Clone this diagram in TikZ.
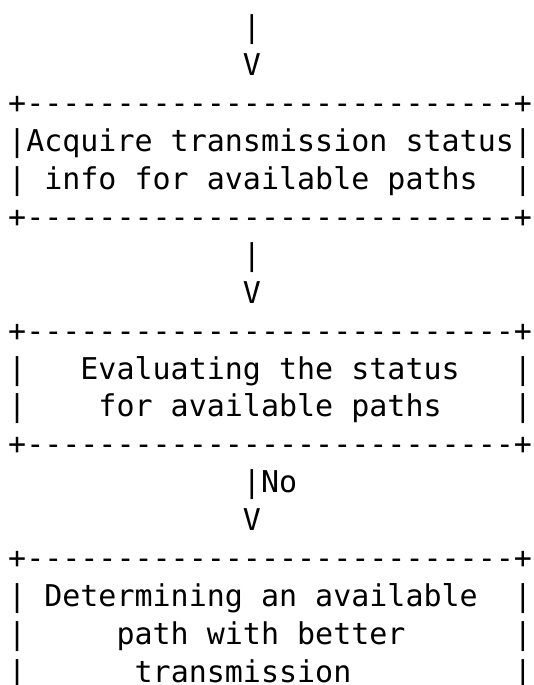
\documentclass[tikz,border=0pt]{standalone}
\usepackage{fontspec}
\newfontfamily\asciifont{DejaVu Sans Mono}[Ligatures=TeXOff]

\begin{document}
\begin{tikzpicture}[x=18.06pt, y=-37.9pt,
  ascii/.style={font=\asciifont\fontsize{30pt}{36pt}\selectfont, inner sep=0pt, anchor=base west}]
\useasboundingbox (-8pt,0pt) rectangle (525pt,-685pt);

% Incoming arrow
\node[ascii] (inbar)  at (13,1) {|};
\node[ascii] (inhead) at (13,2) {V};

% Acquire box
\node[ascii] (acqtop) at (0,3) {+---------------------------+};
\node[ascii] (acq1)   at (0,4) {|Acquire transmission status|};
\node[ascii] (acq2)   at (0,5) {|~info for available paths~~|};
\node[ascii] (acqbot) at (0,6) {+---------------------------+};

% Arrow to evaluation
\node[ascii] (evalbar)  at (13,7) {|};
\node[ascii] (evalhead) at (13,8) {V};

% Evaluation box
\node[ascii] (evaltop) at (0,9)  {+---------------------------+};
\node[ascii] (eval1)   at (0,10) {|~~~Evaluating the status~~~|};
\node[ascii] (eval2)   at (0,11) {|~~~~for available paths~~~~|};
\node[ascii] (evalbot) at (0,12) {+---------------------------+};

% Arrow for No
\node[ascii] (nobar)  at (13,13) {|No};
\node[ascii] (nohead) at (13,14) {V};

% Determining box
\node[ascii] (dettop) at (0,15) {+---------------------------+};
\node[ascii] (det1)   at (0,16) {|~Determining an available~~|};
\node[ascii] (det2)   at (0,17) {|~~~~~path with better~~~~~~|};
\node[ascii] (det3)   at (0,18) {|~~~~~~transmission~~~~~~~~~|};

\end{tikzpicture}
\end{document}
